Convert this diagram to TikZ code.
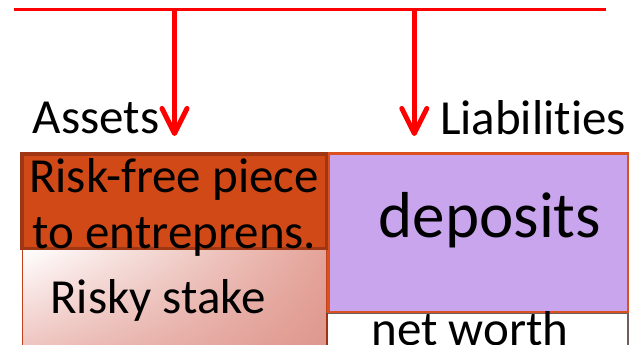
\documentclass[tikz,border=0pt]{standalone}
\usepackage{fontspec}
\setmainfont{Carlito}[Ligatures={NoCommon,NoRare,NoContextual}]
\usetikzlibrary{arrows.meta,shadings}
\definecolor{rfFill}{RGB}{209,73,23}
\definecolor{rfLine}{RGB}{160,55,20}
\definecolor{depFill}{RGB}{201,165,238}
\definecolor{depLine}{RGB}{218,80,30}
\definecolor{rsLine}{RGB}{195,65,25}
\definecolor{rsUR}{RGB}{228,163,153}
\definecolor{rsLL}{RGB}{238,195,190}
\definecolor{rsLR}{RGB}{222,150,140}
\definecolor{nwLine}{RGB}{110,95,95}
\tikzset{
  lbl/.style={inner sep=0pt, anchor=base, font=\fontsize{49}{55}\selectfont},
  biglbl/.style={inner sep=0pt, anchor=base, font=\fontsize{65}{70}\selectfont},
  redline/.style={draw=red, line width=3pt},
  redarrow/.style={draw=red, line width=5pt,
    -{Straight Barb[length=25pt, width=25pt, round]}},
}
\begin{document}
\begin{tikzpicture}[x=1pt,y=-1pt]
\useasboundingbox (0,0) rectangle (630,345);
\begin{scope}
\clip (0,0) rectangle (630,345);
% risky stake box
\shade[upper left=white, upper right=rsUR, lower left=rsLL, lower right=rsLR] (22,250) rectangle (326,350);
\draw[rsLine, line width=1.4pt] (22.5,360) -- (22.5,250) (326.5,250) -- (326.5,360);
% net worth box
\draw[nwLine, line width=1.2pt, fill=white] (327,313) rectangle (628,360);
\draw[rsLine!80!black, line width=2.5pt] (327,313) -- (327,360);
% deposits box
\draw[depLine, line width=2.5pt, fill=depFill] (328.25,153.25) rectangle (627.75,311.75);
% risk-free box
\draw[rfLine, line width=3.5pt, fill=rfFill] (21.75,153.75) rectangle (326.25,248.25);
\end{scope}
% lines and arrows
\coordinate (lstart) at (14,10);
\coordinate (lend) at (606,10);
\coordinate (j1) at (174.5,10);
\coordinate (j2) at (414.3,10);
\coordinate (t1) at (174.5,136);
\coordinate (t2) at (414.3,136);
\draw[redline] (lstart) -- (lend);
\draw[redarrow] (j1) -- (t1);
\draw[redarrow] (j2) -- (t2);
% texts
\node[lbl] (assets) at (96,133) {Assets};
\node[lbl] (liab) at (533,135) {Liabilities};
\node[lbl] (rf1) at (174,193) {Risk-free piece};
\node[lbl] (rf2) at (174.5,248) {to entreprens.};
\node[lbl] (risky) at (158,313) {Risky stake};
\node[biglbl] (dep) at (490,237) {deposits};
\node[lbl] (nw) at (470,345) {net worth};
\end{tikzpicture}
\end{document}
